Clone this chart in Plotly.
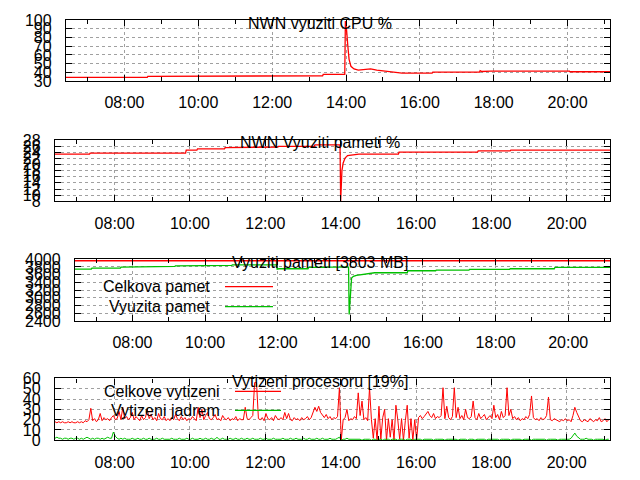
import pandas as pd
import plotly.graph_objects as go

DAY = "2013-05-14 "
FONT = "Liberation Sans"

# --- NWN vyuziti CPU %
cpu_nwn_time = ["06:25", "08:37", "08:38", "10:39", "10:40", "13:22", "13:23", "13:58", "13:59",
                "14:01", "14:03", "14:05", "14:08", "14:13", "14:20", "14:30", "14:40", "14:50",
                "15:00", "15:14", "15:24", "15:31", "16:20", "16:21", "17:37", "17:38", "17:41",
                "17:55", "20:03", "20:04", "21:09"]
cpu_nwn = [34.2, 34.2, 35.3, 35.3, 36.1, 36.1, 37.6, 37.6, 99,
           88, 70, 55, 47, 44, 42.5, 43.5, 44, 42.5,
           41.9, 40.7, 40.0, 39.2, 39.2, 40.3, 40.3, 42, 41,
           41.5, 41.5, 40.7, 40.7]

# --- NWN Vyuziti pameti %
mem_nwn_time = ["06:25", "07:20", "07:21", "09:53", "09:54", "10:11", "10:12", "10:55", "10:56",
                "11:18", "11:19", "12:20", "12:21", "13:18", "13:19", "13:59", "14:00", "14:02",
                "14:04", "14:07", "14:11", "14:29", "15:32", "15:33", "17:38", "17:39", "18:30",
                "18:31", "21:09"]
mem_nwn = [23.35, 23.35, 23.7, 23.7, 24.65, 24.65, 25.1, 25.1, 25.5,
           25.5, 25.7, 25.7, 25.9, 25.9, 26.4, 26.4, 8, 18,
           20.5, 22.1, 22.9, 23.35, 23.35, 24.0, 24.0, 24.4, 24.4,
           24.65, 24.65]

# --- Vyuziti pameti [3803 MB]
mem_total_time = ["06:25", "21:09"]
mem_total = [3960, 3960]
mem_used_time = ["06:25", "06:52", "06:53", "07:40", "07:41", "08:29", "08:30", "09:10", "09:11",
                 "10:04", "10:05", "10:44", "10:45", "11:58", "11:59", "12:02", "12:50", "12:51",
                 "13:20", "13:21", "13:57", "13:58", "14:02", "14:05", "14:10", "14:25", "14:40",
                 "15:34", "15:35", "16:21", "16:22", "17:16", "17:17", "18:23", "18:24", "19:37",
                 "19:38", "21:09"]
mem_used = [3743, 3743, 3768, 3768, 3794, 3794, 3812, 3812, 3829,
            3829, 3837, 3837, 3855, 3855, 3740, 3752, 3752, 3786,
            3786, 3795, 3795, 2571, 3512, 3555, 3581, 3615, 3649,
            3649, 3700, 3700, 3718, 3718, 3735, 3735, 3752, 3752,
            3786, 3786]

# --- Vytizeni procesoru [19%], one sample every 3 minutes from 06:25
cpu_start = "06:25"
cpu_step = "3min"
cpu_total = [
    18, 17, 18, 17, 18, 17, 17, 18, 17, 18, 17, 17, 18, 17, 18, 17, 19, 18, 20, 31,  # 06:25
    19, 21, 18, 20, 26, 19, 22, 20, 21, 19, 22, 24, 20, 21, 28, 20, 32, 21, 23, 20,  # 07:25
    22, 27, 20, 23, 21, 19, 24, 20, 22, 30, 21, 25, 20, 22, 19, 26, 21, 20, 23, 19,  # 08:25
    21, 19, 22, 20, 25, 21, 19, 23, 20, 22, 19, 21, 20, 23, 21, 19, 32, 22, 30, 20,  # 09:25
    24, 27, 21, 20, 22, 25, 20, 21, 19, 24, 21, 20, 22, 19, 21, 20, 23, 19, 21, 20,  # 10:25
    20, 32, 21, 20, 22, 24, 56, 56, 21, 20, 22, 19, 26, 21, 20, 22, 19, 24, 21, 20,  # 11:25
    22, 20, 27, 21, 26, 20, 19, 22, 20, 21, 19, 22, 20, 21, 23, 20, 22, 27, 32, 28,  # 12:25
    33, 27, 24, 22, 25, 21, 23, 20, 22, 21, 23, 51, 0, 20, 22, 30, 19, 21, 20, 23,   # 13:25
    21, 46, 24, 38, 20, 22, 19, 51, 20, 2, 21, 0, 33, 1, 22, 30, 0, 21, 3, 20,       # 14:25
    0, 34, 20, 1, 21, 0, 19, 34, 2, 21, 0, 20, 0, 22, 24, 21, 23, 25, 28, 24,        # 15:25
    22, 26, 21, 23, 22, 24, 51, 21, 33, 22, 20, 23, 51, 22, 32, 21, 24, 20, 30, 22,  # 16:25
    21, 23, 38, 22, 20, 26, 21, 23, 25, 20, 22, 24, 21, 34, 22, 25, 20, 28, 22, 24,  # 17:25
    51, 24, 30, 21, 23, 20, 22, 19, 21, 20, 23, 21, 25, 43, 22, 20, 21, 19, 22, 20,  # 18:25
    21, 24, 42, 20, 19, 21, 20, 19, 18, 20, 19, 21, 19, 20, 18, 24, 32, 27, 22, 19,  # 19:25
    18, 20, 19, 18, 21, 19, 18, 20, 19, 22, 18, 19, 21, 18, 20,                      # 20:25
]
cpu_kernel = [
    2, 3, 2, 2, 1, 2, 2, 1, 2, 2, 1, 2, 2, 1, 2, 1, 2, 3, 2, 1,
    2, 1, 2, 2, 1, 2, 1, 2, 3, 2, 2, 8, 4, 2, 1, 2, 1, 2, 1, 1,
    1, 2, 1, 1, 2, 1, 1, 2, 1, 1, 2, 1, 1, 1, 2, 1, 1, 2, 1, 1,
    1, 1, 2, 1, 1, 1, 2, 1, 1, 1, 2, 1, 1, 2, 1, 1, 1, 2, 1, 1,
    2, 1, 1, 2, 1, 1, 3, 1, 1, 2, 1, 1, 1, 2, 1, 1, 2, 1, 1, 2,
    1, 1, 2, 1, 1, 2, 1, 1, 1, 2, 1, 1, 2, 1, 1, 1, 2, 1, 1, 1,
    1, 2, 1, 1, 1, 2, 1, 1, 2, 1, 1, 1, 2, 1, 1, 2, 1, 1, 1, 2,
    1, 1, 2, 1, 1, 1, 2, 1, 1, 1, 2, 3, 0, 1, 1, 2, 1, 1, 1, 1,
    1, 1, 1, 0, 1, 1, 1, 1, 0, 1, 1, 0, 1, 1, 0, 1, 1, 1, 0, 1,
    1, 1, 0, 1, 1, 1, 0, 1, 1, 1, 0, 1, 1, 1, 1, 0, 1, 1, 1, 1,
    1, 0, 1, 1, 1, 1, 1, 0, 1, 1, 1, 1, 1, 1, 0, 1, 1, 1, 1, 0,
    1, 1, 1, 0, 1, 1, 1, 1, 1, 0, 1, 1, 1, 1, 1, 1, 0, 1, 1, 1,
    1, 1, 0, 1, 1, 1, 1, 1, 0, 1, 1, 1, 1, 0, 1, 1, 1, 1, 1, 1,
    1, 0, 1, 1, 1, 1, 1, 0, 1, 1, 1, 1, 1, 1, 2, 5, 7, 4, 2, 1,
    1, 1, 2, 1, 1, 1, 0, 1, 1, 1, 1, 1, 0, 1, 1,
]

titles = ["NWN vyuziti CPU %", "NWN Vyuziti pameti %", "Vyuziti pameti [3803 MB]",
          "Vytizeni procesoru [19%]"]
y_ranges = [[30, 100], [8, 28], [2400, 4000], [0, 60]]
y_steps = [10, 2, 200, 10]

RED = "#ff0000"
GREEN = "#00c000"


def times(hhmm):
    return pd.to_datetime([DAY + t for t in hhmm])


def px(x):
    return x / 640


def py(y):
    # the photographed page comes out a little squeezed vertically, so undo that here
    return 1 - ((y - 7.8) / 0.9666) / 480


# panel boxes in pixels: left, right, top, bottom
boxes = [(66, 610, 20, 81), (55, 610, 140, 201.5), (75, 610, 259.5, 321.5), (55, 610, 379, 441)]

fig = go.Figure()
cpu_x = pd.date_range(DAY + cpu_start, periods=len(cpu_total), freq=cpu_step)

fig.add_trace(go.Scatter(x=times(cpu_nwn_time), y=cpu_nwn, mode="lines",
                         line={"color": RED, "width": 1.3}, xaxis="x", yaxis="y"))
fig.add_trace(go.Scatter(x=times(mem_nwn_time), y=mem_nwn, mode="lines",
                         line={"color": RED, "width": 1.3}, xaxis="x2", yaxis="y2"))
fig.add_trace(go.Scatter(x=times(mem_total_time), y=mem_total, mode="lines", name="Celkova pamet",
                         line={"color": RED, "width": 1.5}, xaxis="x3", yaxis="y3"))
fig.add_trace(go.Scatter(x=times(mem_used_time), y=mem_used, mode="lines", name="Vyuzita pamet",
                         line={"color": GREEN, "width": 1.3}, xaxis="x3", yaxis="y3"))
fig.add_trace(go.Scatter(x=cpu_x, y=cpu_total, mode="lines", name="Celkove vytizeni",
                         line={"color": RED, "width": 1}, xaxis="x4", yaxis="y4"))
fig.add_trace(go.Scatter(x=cpu_x, y=cpu_kernel, mode="lines", name="Vytizeni jadrem",
                         line={"color": GREEN, "width": 1}, xaxis="x4", yaxis="y4"))

layout = {}
annotations = []
for i, (left, right, top, bottom) in enumerate(boxes):
    n = "" if i == 0 else str(i + 1)
    layout["xaxis" + n] = dict(
        domain=[px(left), px(right)], anchor="y" + n, type="date",
        range=[DAY + "06:25", DAY + "21:09"], tickformat="%H:%M",
        tick0=DAY + "00:00", dtick=7200000,
        ticks="inside", ticklen=6, tickcolor="black", tickwidth=1,
        showline=True, linecolor="black", linewidth=1.3, mirror="allticks",
        showgrid=True, gridcolor="#a0a0a0", griddash="3px,3px", gridwidth=1,
        zeroline=False, ticklabelstandoff=7,
        tickfont={"family": FONT, "size": 16, "color": "black"},
        minor=dict(tick0=DAY + "00:00", dtick=3600000, ticks="inside", ticklen=4,
                   tickcolor="black", showgrid=False),
    )
    layout["yaxis" + n] = dict(
        domain=[py(bottom), py(top)], anchor="x" + n,
        range=y_ranges[i], tick0=y_ranges[i][0], dtick=y_steps[i],
        ticks="inside", ticklen=6, tickcolor="black", tickwidth=1,
        showline=True, linecolor="black", linewidth=1.3, mirror="allticks",
        showgrid=True, gridcolor="#a0a0a0", griddash="3px,3px", gridwidth=1,
        zeroline=False, ticklabelstandoff=10,
        tickfont={"family": FONT, "size": 16, "color": "black"},
    )
    annotations.append(dict(
        text=titles[i], xref="paper", yref="paper", x=0.5, y=py(top + 3),
        xanchor="center", yanchor="middle", showarrow=False,
        font={"family": FONT, "size": 16, "color": "black"},
    ))

# gnuplot style keys: text, then a line sample, on a white box over the grid
keys = [
    # box (l, r, t, b), text right edge, sample start/end, rows of (label, colour, y)
    ((75, 281, 272, 321), 212, 225, 273, [("Celkova pamet", RED, 287), ("Vyuzita pamet", GREEN, 307)]),
    ((55, 285, 379, 426), 222, 235, 281, [("Celkove vytizeni", RED, 392), ("Vytizeni jadrem", GREEN, 411)]),
]
shapes = []
for (bl, br, bt, bb), text_right, s0, s1, rows in keys:
    shapes.append(dict(type="rect", xref="paper", yref="paper", x0=px(bl + 1), x1=px(br),
                       y0=py(bb - 1), y1=py(bt), fillcolor="white", line={"width": 0}, layer="between"))
    for label, colour, y in rows:
        annotations.append(dict(
            text=label, xref="paper", yref="paper", x=px(text_right), y=py(y),
            xanchor="right", yanchor="middle", showarrow=False,
            font={"family": FONT, "size": 16, "color": "black"},
        ))
        shapes.append(dict(type="line", xref="paper", yref="paper", x0=px(s0), x1=px(s1),
                           y0=py(y), y1=py(y), line={"color": colour, "width": 1.3}, layer="above"))

fig.update_layout(
    **layout,
    annotations=annotations,
    shapes=shapes,
    width=640,
    height=480,
    margin={"l": 0, "r": 0, "t": 0, "b": 0},
    paper_bgcolor="white",
    plot_bgcolor="white",
    showlegend=False,
    font={"family": FONT, "size": 16, "color": "black"},
)

# the page body keeps its default 8px margin otherwise
fig.write_html("out.html", config={"displayModeBar": False},
               post_script="document.body.style.margin = '0';")
